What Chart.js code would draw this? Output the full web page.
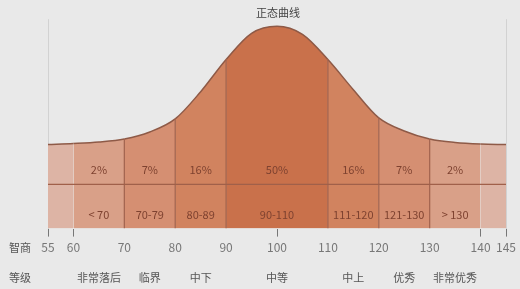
<!DOCTYPE html>
<html>
<head>
<meta charset="utf-8">
<script src="https://cdn.jsdelivr.net/npm/chart.js@4"></script>
<style>
  body { margin: 0; background: #e9e9e9; }
  #wrap { width: 520px; height: 289px; }
</style>
</head>
<body>
<div id="wrap"><canvas id="bell"></canvas></div>
<script>
// IQ values along the curve and the height
const iqValues = [55, 60, 65, 70, 75, 80, 85, 90, 95, 100, 105, 110, 115, 120, 125, 130, 135, 140, 145];
const curveHeights = [83.5, 84.5, 86, 89, 96, 109, 136, 168, 194, 201, 193, 168, 138, 110, 97, 89, 85.5, 84, 83.5];

const tickValues = [55, 60, 70, 80, 90, 100, 110, 120, 130, 140, 145];
const bandBounds = [55, 60, 70, 80, 90, 110, 120, 130, 140, 145];
const dividerValues = [70, 80, 90, 110, 120, 130];

const grades = ["非常落后", "临界", "中下", "中等", "中上", "优秀", "非常优秀"];
const shares = ["2%", "7%", "16%", "50%", "16%", "7%", "2%"];
const ranges = ["< 70", "70-79", "80-89", "90-110", "111-120", "121-130", "> 130"];

const bandColors = ["#ddb4a5", "#d9a088", "#d58f72", "#d1835f", "#c9714b", "#d1835f", "#d58f72", "#d9a088", "#ddb4a5"];
const markedTicks = [55, 60, 100, 140, 145];

const fontFamily = "'Noto Sans CJK SC', 'Noto Sans', sans-serif";
const textColor = "#7e4230";

function bandIndex(x) {
    for (let i = 0; i < bandBounds.length - 1; i++) {
        if (x >= bandBounds[i] && x < bandBounds[i + 1]) return i;
    }
    return bandBounds.length - 2;
}

const curvePoints = iqValues.map((x, i) => ({ x: x, y: curveHeights[i] }));

const dividerSets = dividerValues.map(v => ({
    data: [{ x: v, y: 0 }, { x: v, y: curveHeights[iqValues.indexOf(v)] }],
    borderColor: "#a0604a",
    borderWidth: 1.2,
    pointRadius: 0,
    fill: false,
    order: 0,
}));

// label plugin: the band texts and the row headings
const labelPlugin = {
    id: "labels",
    afterDatasetsDraw(chart) {
        const ctx = chart.ctx;
        const xs = chart.scales.x;
        const ys = chart.scales.y;
        // same line as the tick numbers
        const tickY = xs.top + 8 + 4 + 12 * 1.2 / 2;
        const gradeY = tickY + 30;
        ctx.save();
        ctx.textAlign = "center";
        ctx.textBaseline = "middle";
        ctx.font = "11px " + fontFamily;
        for (let i = 0; i < grades.length; i++) {
            const mid = (bandBounds[i + 1] + bandBounds[i + 2]) / 2;
            const px = xs.getPixelForValue(mid);
            ctx.fillStyle = textColor;
            ctx.fillText(shares[i], px, ys.getPixelForValue(58));
            ctx.fillText(ranges[i], px, ys.getPixelForValue(14));
            ctx.fillStyle = "#555";
            ctx.fillText(grades[i], px, gradeY);
        }
        ctx.fillStyle = "#555";
        ctx.fillText("智商", 20, tickY);
        ctx.fillText("等级", 20, gradeY);
        ctx.restore();
    }
};

new Chart(document.getElementById("bell"), {
    type: "line",
    data: {
        datasets: [
            ...dividerSets,
            {
                data: [{ x: iqValues[0], y: 44 }, { x: iqValues[iqValues.length - 1], y: 44 }],
                borderColor: "#a0604a",
                borderWidth: 1.2,
                pointRadius: 0,
                fill: false,
                order: 0,
            },
            {
                data: curvePoints,
                borderColor: "#8e5a47",
                borderWidth: 1.5,
                pointRadius: 0,
                cubicInterpolationMode: "monotone",
                fill: "origin",
                backgroundColor: bandColors[0],
                segment: {
                    backgroundColor: c => bandColors[bandIndex(c.p0.parsed.x)],
                },
                order: 10,
            },
        ],
    },
    options: {
        responsive: true,
        maintainAspectRatio: false,
        animation: false,
        layout: { padding: { left: 48, right: 12, bottom: 30 } },
        plugins: {
            legend: { display: false },
            tooltip: { enabled: false },
            title: {
                display: true,
                text: "正态曲线",
                color: "#444",
                font: { family: fontFamily, size: 11, weight: "normal" },
                padding: { top: 6, bottom: 0 },
            },
        },
        scales: {
            x: {
                type: "linear",
                min: 55,
                max: 145,
                afterBuildTicks: axis => {
                    axis.ticks = tickValues.map(v => ({ value: v }));
                },
                border: { display: false },
                grid: {
                    drawOnChartArea: true,
                    tickLength: 8,
                    color: c => (c.tick && (c.tick.value === 55 || c.tick.value === 145)) ? "#d2d2d2" : "transparent",
                    tickColor: c => (c.tick && markedTicks.includes(c.tick.value)) ? "#777" : "transparent",
                },
                ticks: {
                    color: "#777",
                    font: { family: fontFamily, size: 12 },
                    padding: 4,
                    maxRotation: 0,
                    autoSkip: false,
                },
            },
            y: {
                display: false,
                min: 0,
                max: 208,
            },
        },
    },
    plugins: [labelPlugin],
});
</script>
</body>
</html>
